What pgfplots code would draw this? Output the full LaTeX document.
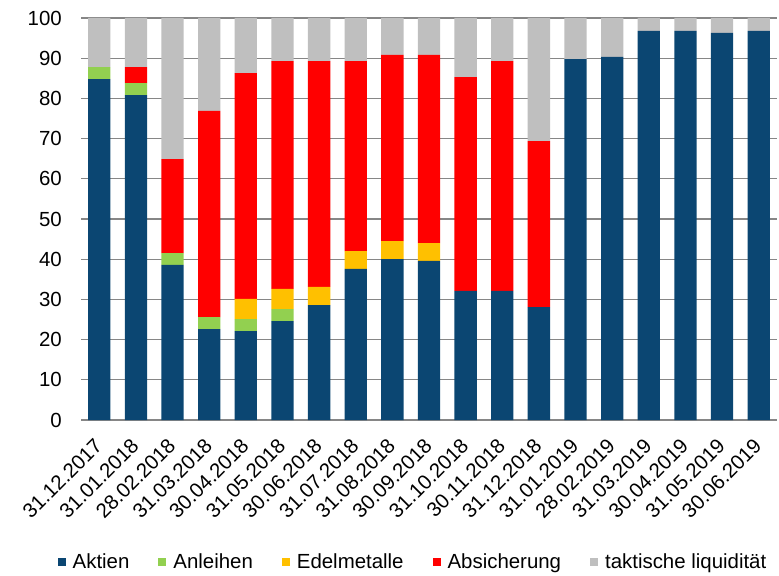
\documentclass[border=0pt]{standalone}
\usepackage{pgfplots}
\usepackage{pgfplotstable}
\usepackage{fontspec}
\setmainfont{Liberation Sans}
\pgfplotsset{compat=1.18}

\definecolor{aktien}{HTML}{0B4672}
\definecolor{anleihen}{HTML}{92D050}
\definecolor{edel}{HTML}{FFC000}
\definecolor{absich}{HTML}{FF0000}
\definecolor{liqui}{HTML}{BFBFBF}
\definecolor{gridgray}{HTML}{868686}

% x  aktien anleihen edel absich liqui
\pgfplotstableread{
x  akt   anl  edl  abs   liq
0  84.8  3.0  0.0  0.0   12.2
1  80.8  3.0  0.0  4.0   12.2
2  38.6  2.9  0.0  23.4  35.1
3  22.6  3.0  0.0  51.3  23.1
4  22.1  3.0  5.0  56.2  13.7
5  24.6  3.0  5.0  56.7  10.7
6  28.6  0.0  4.5  56.2  10.7
7  37.6  0.0  4.4  47.3  10.7
8  40.0  0.0  4.5  46.3  9.2
9  39.6  0.0  4.4  46.8  9.2
10 32.1  0.0  0.0  53.2  14.7
11 32.1  0.0  0.0  57.2  10.7
12 28.1  0.0  0.0  41.3  30.6
13 89.8  0.0  0.0  0.0   10.2
14 90.3  0.0  0.0  0.0   9.7
15 96.8  0.0  0.0  0.0   3.2
16 96.8  0.0  0.0  0.0   3.2
17 96.3  0.0  0.0  0.0   3.7
18 96.8  0.0  0.0  0.0   3.2
}\datatable

\begin{document}
\begin{tikzpicture}
\path[use as bounding box] (-81bp,-156bp) rectangle (698bp,420bp);
\begin{axis}[
    at={(0,0)}, anchor=south west,
    scale only axis,
    width=696bp, height=402bp,
    ybar stacked,
    bar width=22.3bp,
    xmin=-0.5, xmax=18.5,
    ymin=0, ymax=100,
    ytick={0,10,...,100},
    xtick={0,...,18},
    xticklabels={31.12.2017,31.01.2018,28.02.2018,31.03.2018,30.04.2018,31.05.2018,30.06.2018,31.07.2018,31.08.2018,30.09.2018,31.10.2018,30.11.2018,31.12.2018,31.01.2019,28.02.2019,31.03.2019,30.04.2019,31.05.2019,30.06.2019},
    /pgf/number format/assume math mode=true,
    major tick length=0pt,
    axis line style={draw=none},
    ymajorgrids=true,
    grid style={gridgray, line width=1.3bp},
    tick label style={font=\fontsize{20.5}{24}\selectfont},
    yticklabel style={anchor=east, inner sep=0pt, xshift=-19bp},
    xticklabel style={yshift=-17bp, xshift=-6bp, rotate=45, anchor=north east, inner sep=0pt},
    legend columns=-1,
    legend image code/.code={\fill[#1] (0bp,-4bp) rectangle (8bp,4bp);},
    legend style={draw=none, fill=none, at={(0.477,-0.354)}, anchor=center,
        font=\fontsize{20.5}{24}\selectfont,
        /tikz/every odd column/.append style={column sep=5bp},
        /tikz/every even column/.append style={column sep=27bp}},
]
\addplot[fill=aktien, draw=none] table[x=x, y=akt] {\datatable};
\addlegendentry{Aktien}
\addplot[fill=anleihen, draw=none] table[x=x, y=anl] {\datatable};
\addlegendentry{Anleihen}
\addplot[fill=edel, draw=none] table[x=x, y=edl] {\datatable};
\addlegendentry{Edelmetalle}
\addplot[fill=absich, draw=none] table[x=x, y=abs] {\datatable};
\addlegendentry{Absicherung}
\addplot[fill=liqui, draw=none] table[x=x, y=liq] {\datatable};
\addlegendentry{taktische liquidität}
\end{axis}
\end{tikzpicture}
\end{document}
